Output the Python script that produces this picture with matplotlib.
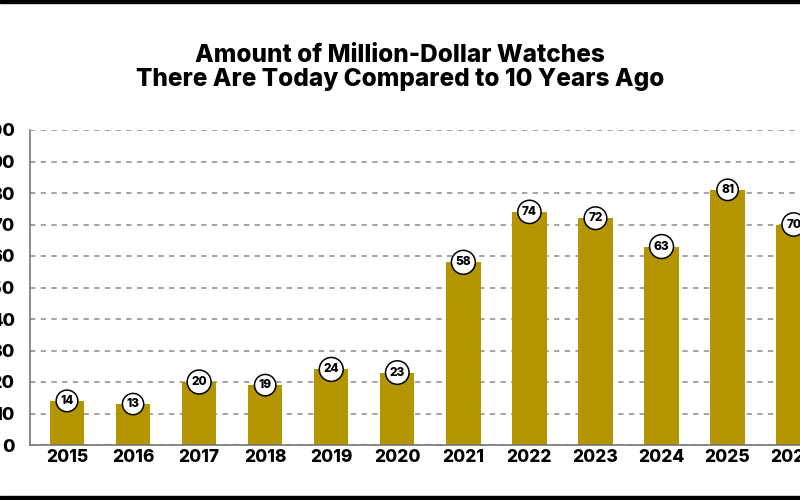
import matplotlib.pyplot as plt
from matplotlib.patches import Rectangle

years = ['2015', '2016', '2017', '2018', '2019', '2020',
         '2021', '2022', '2023', '2024', '2025', '2026']
counts = [14, 13, 20, 19, 24, 23, 58, 74, 72, 63, 81, 70]
yticks = [0, 10, 20, 30, 40, 50, 60, 70, 80, 90, 100]

barColor = '#B39500'
plt.rcParams['font.family'] = ['Inter', 'DejaVu Sans']

fig = plt.figure(figsize=(8, 5), dpi=100)
ax = fig.add_axes([0.0375, 0.11, 1.0, 0.63])

xs = range(len(years))
ax.bar(xs, counts, width=0.52, color=barColor, zorder=2)
for x, v in zip(xs, counts):
    ax.annotate(str(v), (x, v), ha='center', va='center', fontsize=8.5,
                fontweight='heavy', zorder=4,
                bbox=dict(boxstyle='circle,pad=0.35', fc='white', ec='black', lw=1.1))

ax.set_xlim(-0.56, 11.55)
ax.set_ylim(0, 100)
ax.set_xticks(list(xs))
ax.set_xticklabels(years, fontsize=12.5, fontweight='heavy')
ax.set_yticks(yticks)
ax.set_yticklabels([str(t) for t in yticks], fontsize=13, fontweight='heavy')
ax.tick_params(axis='both', length=0)
ax.tick_params(axis='y', pad=11)
ax.tick_params(axis='x', pad=3)
ax.yaxis.grid(True, linestyle=(0, (3.5, 3.5)), color='#8a8a8a', lw=1.1, zorder=1)
ax.set_axisbelow(True)
for s in ['top', 'right']:
    ax.spines[s].set_visible(False)
for s in ['left', 'bottom']:
    ax.spines[s].set_color('#777777')
    ax.spines[s].set_linewidth(1.2)

fig.text(0.5, 0.865, 'Amount of Million-Dollar Watches\nThere Are Today Compared to 10 Years Ago',
         ha='center', va='center', fontsize=17.5, fontweight='heavy', linespacing=1.05)

fig.patches.append(Rectangle((0, 0.994), 1, 0.006, transform=fig.transFigure, color='black'))
fig.patches.append(Rectangle((0, 0), 1, 0.008, transform=fig.transFigure, color='black'))

fig.savefig('out.png', dpi=100)
